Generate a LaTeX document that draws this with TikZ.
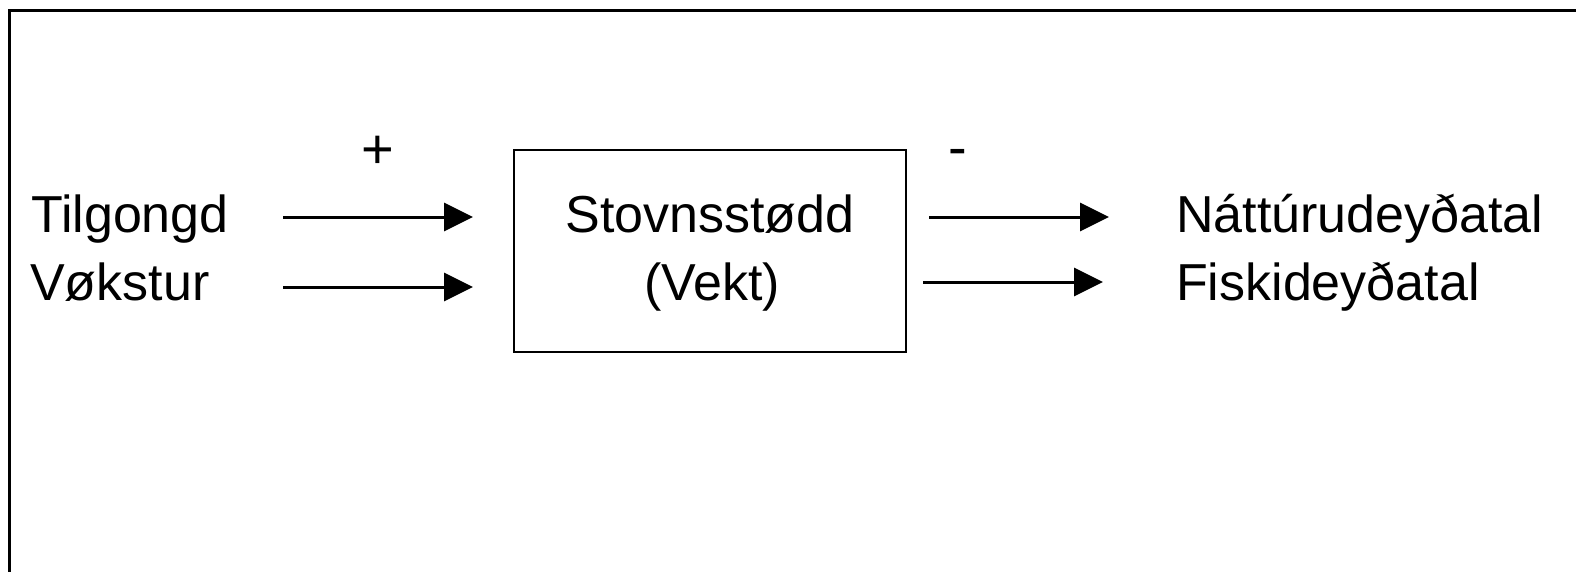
\documentclass[tikz,border=0pt]{standalone}
\usepackage{fontspec}
\setmainfont{Liberation Sans}
\usetikzlibrary{arrows.meta}
\begin{document}
\begin{tikzpicture}[x=1pt,y=-1pt,
    lbl/.style={anchor=base west, inner sep=0pt, font=\fontsize{52}{62}\selectfont},
    sign/.style={anchor=base, inner sep=0pt, font=\fontsize{56}{66}\selectfont},
    flow/.style={line width=3pt, -{Triangle[length=29pt,width=28pt]}}]
    \useasboundingbox (0,0) rectangle (1576,572);
    \draw[line width=3pt] (9,572) -- (9,11) -- (1576,11);
    \node[draw, line width=2pt, minimum width=392pt, minimum height=202pt, inner sep=0pt] (stock) at (710,251) {};
    \node[lbl] (tilgongd) at (31,233) {Tilgongd};
    \node[lbl] (vokstur) at (30,300) {Vøkstur};
    \node[lbl, anchor=base] (stovn) at (710,233) {Stovnsstødd};
    \node[lbl, anchor=base] (vekt) at (712,300) {(Vekt)};
    \node[lbl] (natt) at (1176,233) {Náttúrudeyðatal};
    \node[lbl] (fiski) at (1176,300) {Fiskideyðatal};
    \node[sign] (plus) at (378,169) {+};
    \node[sign] (minus) at (958,167) {-};
    \coordinate (in1) at (283,217);
    \coordinate (in1e) at (473,217);
    \coordinate (in2) at (283,287);
    \coordinate (in2e) at (473,287);
    \coordinate (out1) at (929,217);
    \coordinate (out1e) at (1109,217);
    \coordinate (out2) at (923,282);
    \coordinate (out2e) at (1103,282);
    \draw[flow] (in1) -- (in1e);
    \draw[flow] (in2) -- (in2e);
    \draw[flow] (out1) -- (out1e);
    \draw[flow] (out2) -- (out2e);
\end{tikzpicture}
\end{document}
